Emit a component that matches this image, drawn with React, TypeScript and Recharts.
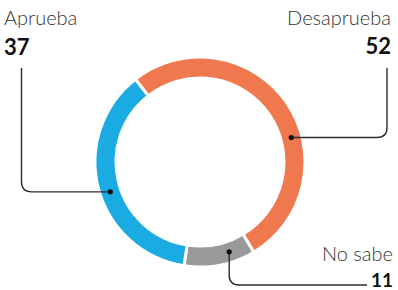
import React from "react";
import { PieChart, Pie, Cell } from "recharts";

const categories = ["Desaprueba", "No sabe", "Aprueba"];
const values = [52, 11, 37];
const colors = ["#F0784F", "#999999", "#1AABE3"];

const data = categories.map((name, i) => ({ name, value: values[i] }));

const RAD = Math.PI / 180;
const LINE = "#2b2b2b";
const FONT = "Lato, 'Open Sans', sans-serif";

// where each leader line leaves the ring (recharts degrees) and where its text sits
const labelLayout: Record<string, any> = {
  Desaprueba: { angle: 15, kind: "right", lineX: 387, top: 68, textX: 391, nameY: 25, valueY: 54, valueSize: 22 },
  "No sabe": { angle: -72, kind: "bottom", lineY: 285, endX: 367, textX: 393, nameY: 261, valueY: 287, valueSize: 19 },
  Aprueba: { angle: -161.6, kind: "left", lineX: 21.5, top: 68, textX: 4, nameY: 25, valueY: 55, valueSize: 22 },
};

function renderLabel(props: any) {
  const { cx, cy, innerRadius, outerRadius, name, value } = props;
  const lay = labelLayout[name];
  if (!lay) return null;
  const r = (innerRadius + outerRadius) / 2;
  const x = cx + r * Math.cos(lay.angle * RAD);
  const y = cy - r * Math.sin(lay.angle * RAD);
  const c = 10;
  let d = "";
  if (lay.kind === "right") {
    d = `M${x},${y} H${lay.lineX - c} Q${lay.lineX},${y} ${lay.lineX},${y - c} V${lay.top}`;
  } else if (lay.kind === "left") {
    d = `M${x},${y} H${lay.lineX + c} Q${lay.lineX},${y} ${lay.lineX},${y - c} V${lay.top}`;
  } else {
    d = `M${x},${y} V${lay.lineY - c} Q${x},${lay.lineY} ${x + c},${lay.lineY} H${lay.endX}`;
  }
  const anchor = lay.kind === "left" ? "start" : "end";
  return (
    <g>
      <path d={d} fill="none" stroke={LINE} strokeWidth={1.4} />
      <circle cx={x} cy={y} r={2.6} fill="#111" />
      <text x={lay.textX} y={lay.nameY} textAnchor={anchor} fontFamily={FONT} fontWeight={300} fontSize={20} fill="#333">
        {name}
      </text>
      <text x={lay.textX} y={lay.valueY} textAnchor={anchor} fontFamily={FONT} fontWeight={700} fontSize={lay.valueSize} fill="#111">
        {value}
      </text>
    </g>
  );
}

export default function App() {
  return (
    <div style={{ position: "absolute", left: 0, top: 0, width: 398, height: 290, background: "#fff" }}>
      <PieChart width={398} height={290} margin={{ top: 0, right: 0, bottom: 0, left: 0 }}>
        <Pie
          data={data}
          dataKey="value"
          nameKey="name"
          cx={200}
          cy={162}
          innerRadius={84}
          outerRadius={105}
          startAngle={128}
          endAngle={-232}
          stroke="#fff"
          strokeWidth={3}
          label={renderLabel}
          labelLine={false}
          isAnimationActive={false}
        >
          {data.map((d, i) => (
            <Cell key={d.name} fill={colors[i]} />
          ))}
        </Pie>
      </PieChart>
    </div>
  );
}
